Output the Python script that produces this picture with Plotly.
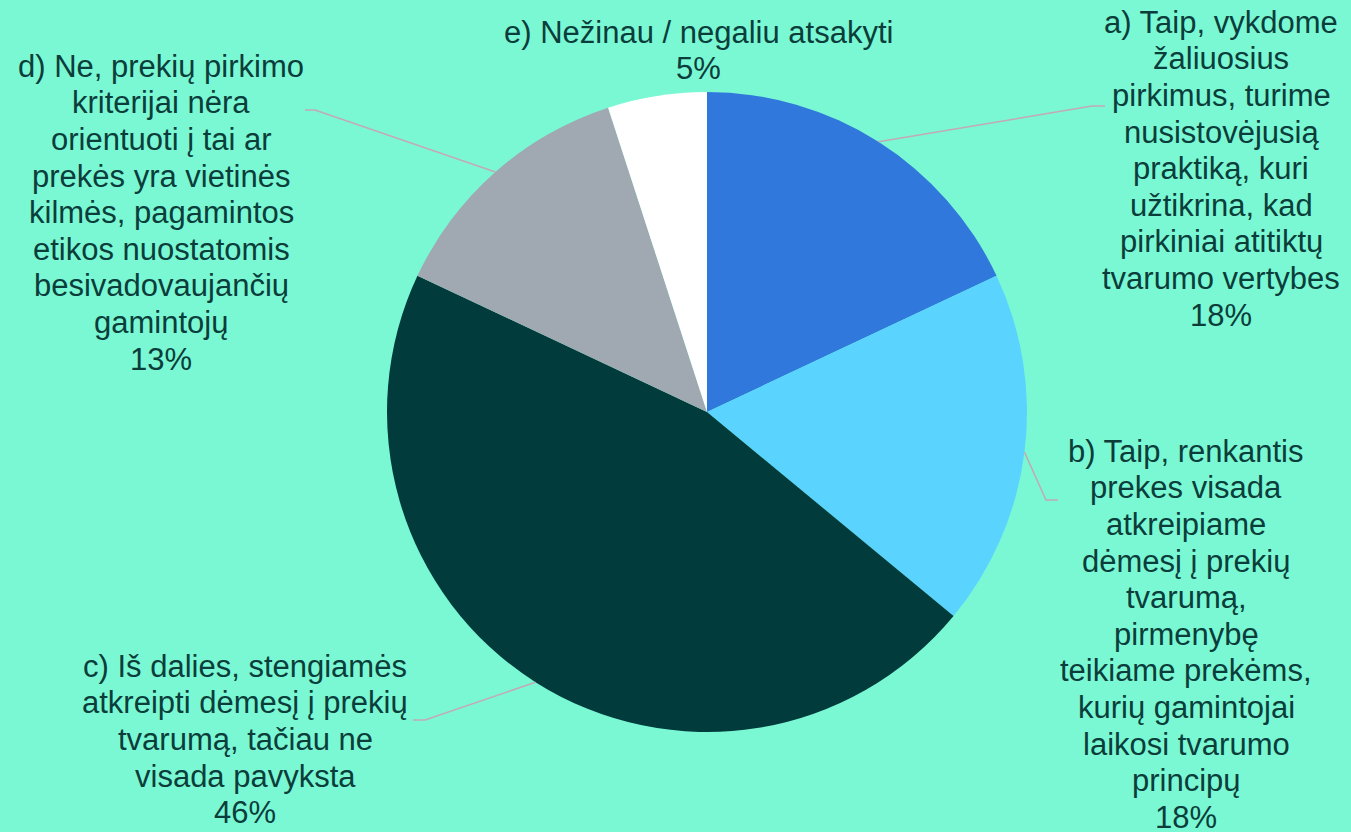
import math
import plotly.graph_objects as go

# ---- data ----
label_lines = [
    ["a) Taip, vykdome", "žaliuosius", "pirkimus, turime", "nusistovėjusią", "praktiką, kuri",
     "užtikrina, kad", "pirkiniai atitiktų", "tvarumo vertybes"],
    ["b) Taip, renkantis", "prekes visada", "atkreipiame", "dėmesį į prekių", "tvarumą,",
     "pirmenybę", "teikiame prekėms,", "kurių gamintojai", "laikosi tvarumo", "principų"],
    ["c) Iš dalies, stengiamės", "atkreipti dėmesį į prekių", "tvarumą, tačiau ne", "visada pavyksta"],
    ["d) Ne, prekių pirkimo", "kriterijai nėra", "orientuoti į tai ar", "prekės yra vietinės",
     "kilmės, pagamintos", "etikos nuostatomis", "besivadovaujančių", "gamintojų"],
    ["e) Nežinau / negaliu atsakyti"],
]
values = [18, 18, 46, 13, 5]
colors = ["#3078DC", "#5AD4FE", "#013B3C", "#A0A8B1", "#FFFFFF"]

W, H = 1351, 832
BG = "#7AF8D4"
TXT = "#0B3D3A"
LINE = "#C4A9B4"
FS = 31
PITCH = 36.6

# pie geometry (pixels)
cx, cy, R = 707, 412, 320

fig = go.Figure(go.Pie(
    labels=[l[0] for l in label_lines],
    values=values,
    marker=dict(colors=colors, line=dict(width=0)),
    sort=False,
    direction="clockwise",
    rotation=0,
    textinfo="none",
    hoverinfo="label+percent",
    domain=dict(x=[(cx - R) / W, (cx + R) / W], y=[(H - cy - R) / H, (H - cy + R) / H]),
    showlegend=False,
))

# label block layout: (center x px, first baseline px), elbow and end of leader line
label_pos = [
    (1221, 33, (1092, 106), (1105, 106)),
    (1186, 462, (1046, 500), (1058, 500)),
    (245, 677, (425, 720), (413, 720)),
    (161, 77, (315, 110), (305, 110)),
    (698, 43, None, None),
]

total = sum(values)
cum = 0
annotations = []
shapes = []
for i, (lines, v) in enumerate(zip(label_lines, values)):
    mid = (cum + v / 2) / total * 2 * math.pi
    cum += v
    pct = round(v / total * 100)
    lx, base, elbow, end = label_pos[i]
    for j, t in enumerate(lines + [f"{pct}%"]):
        yb = base + j * PITCH
        yc = yb - 0.3465 * FS
        annotations.append(dict(
            x=lx / W, y=1 - yc / H, xref="paper", yref="paper",
            xanchor="center", yanchor="middle", align="center",
            text=t, showarrow=False,
            font=dict(family="Liberation Sans, Arial, sans-serif", size=FS, color=TXT),
        ))
    if elbow is not None:
        sx = cx + R * math.sin(mid)
        sy = cy - R * math.cos(mid)
        pts = [(sx, sy), elbow, end]
        path = "M " + " L ".join(f"{x / W},{1 - y / H}" for x, y in pts)
        shapes.append(dict(type="path", xref="paper", yref="paper", path=path,
                           line=dict(color=LINE, width=1.5)))

fig.update_layout(
    width=W, height=H,
    margin=dict(l=0, r=0, t=0, b=0),
    paper_bgcolor=BG, plot_bgcolor=BG,
    annotations=annotations, shapes=shapes,
)
fig.write_html(
    "out.html",
    config={"displayModeBar": False},
    post_script="document.body.style.margin='0';document.body.style.background='%s';" % BG,
)
